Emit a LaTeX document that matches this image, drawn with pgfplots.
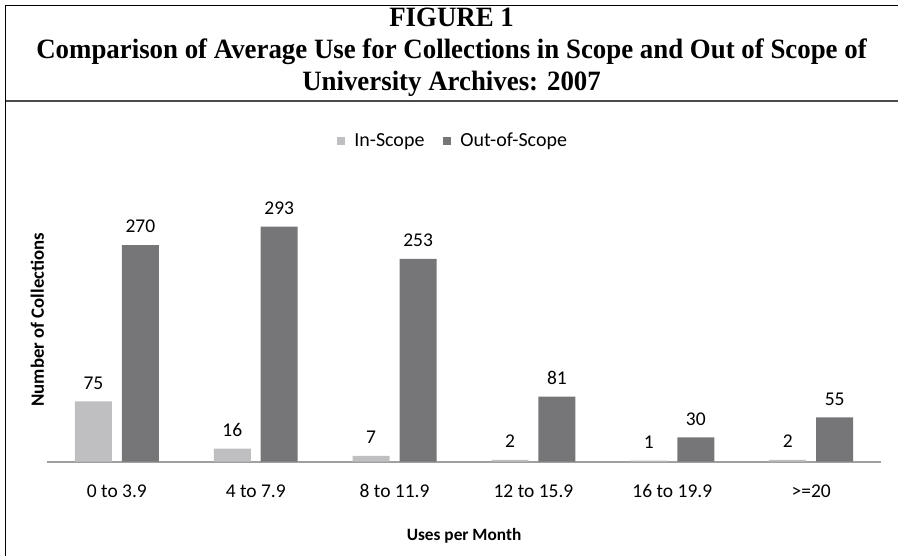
\documentclass[border=0pt]{standalone}
\usepackage{pgfplots}
\pgfplotsset{compat=1.18}
\usepackage{fontspec}
\setmainfont{Carlito}
\newfontfamily\titlefont{Liberation Serif}
\definecolor{inscope}{RGB}{191,191,193}
\definecolor{outscope}{RGB}{118,118,120}
\definecolor{axgray}{RGB}{160,160,160}
\begin{document}
\begin{tikzpicture}[x=1pt,y=1pt]
\path (0,0) rectangle (899,557);
\draw[black,line width=1pt] (5.8,0) -- (5.8,551.5) -- (899,551.5);
\draw[black!70,line width=1.8pt] (5.8,456) -- (899,456);
\node[inner sep=0pt] at (452,505)
  {\scalebox{0.96}[1]{\titlefont\bfseries\fontsize{28}{32}\selectfont\begin{tabular}{@{}c@{}}FIGURE 1\\Comparison of Average Use for Collections in Scope and Out of Scope of\\University Archives: 2007\end{tabular}}};
\begin{axis}[
  at={(47.5pt,95pt)}, anchor=south west, scale only axis,
  width=834pt, height=300pt,
  xmin=-0.5, xmax=5.5, ymin=0, ymax=374,
  ybar, bar width=37pt,
  axis x line=bottom, axis y line=left,
  x axis line style={-, axgray, line width=2pt},
  y axis line style={draw=none},
  xtick={0,1,2,3,4,5},
  xticklabels={0 to 3.9, 4 to 7.9, 8 to 11.9, 12 to 15.9, 16 to 19.9, >=20},
  major tick length=0pt,
  xticklabel style={font=\fontsize{19.5}{22}\selectfont, anchor=base, inner sep=0pt, yshift=-36pt},
  ytick=\empty,
  xlabel={Uses per Month},
  xlabel style={at={(axis description cs:0.5,0)}, anchor=base, font=\bfseries\fontsize{17.3}{21}\selectfont, yshift=-79pt},
  ylabel={Number of Collections},
  ylabel style={at={(axis description cs:-0.012,0.473)}, anchor=center, font=\bfseries\fontsize{18.8}{21}\selectfont},
  /pgf/number format/assume math mode=true,
  nodes near coords,
  every node near coord/.append style={font=\fontsize{19.5}{22}\selectfont, text=black, anchor=south, inner sep=0pt, yshift=12pt},
  legend columns=2,
  legend style={draw=none, fill=none, at={(axis description cs:0.487,1.07)}, anchor=center,
    font=\fontsize{20}{22}\selectfont, /tikz/every even column/.append style={column sep=17pt}},
  legend image code/.code={\fill[#1] (0pt,-3.75pt) rectangle (7.5pt,3.75pt); \path (15pt,0pt);},
]
\addplot[fill=inscope, draw=none, bar shift=-23.5pt] coordinates {(0,75) (1,16) (2,7) (3,2) (4,1) (5,2)};
\addlegendentry{In-Scope}
\addplot[fill=outscope, draw=none, bar shift=23.5pt] coordinates {(0,270) (1,293) (2,253) (3,81) (4,30) (5,55)};
\addlegendentry{Out-of-Scope}
\end{axis}
\end{tikzpicture}
\end{document}
